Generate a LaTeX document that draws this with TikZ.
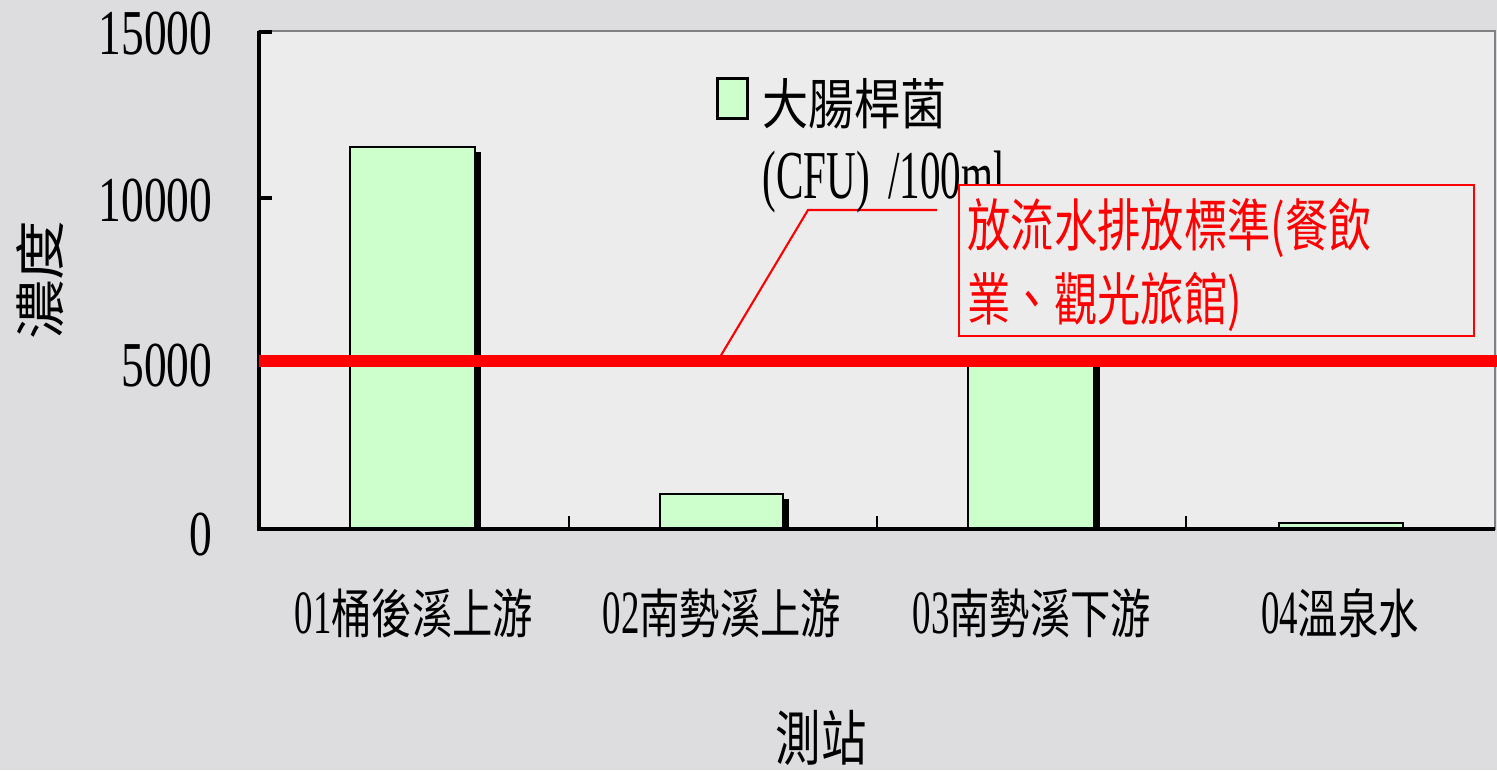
\documentclass[tikz,border=0pt]{standalone}
\usepackage{fontspec}
\usepackage{graphicx}
\newfontfamily\cjk[FakeStretch=0.76]{Noto Sans CJK TC}
\newfontfamily\cjkwide[FakeStretch=0.84]{Noto Sans CJK TC}
\newfontfamily\cjkup{Noto Sans CJK TC}
\newfontfamily\tnr[FakeStretch=0.6]{Liberation Serif}
\newfontfamily\tnrax[FakeStretch=0.71]{Liberation Serif}
\definecolor{marble}{RGB}{221,221,223}
\definecolor{plotgray}{RGB}{236,236,236}
\definecolor{barfill}{RGB}{204,255,204}
\definecolor{stdred}{RGB}{255,0,0}
\newcommand{\station}[2]{{\tnr\fontsize{17.5}{18}\selectfont #1}{\cjk\fontsize{15.1}{16}\selectfont #2}}

\begin{document}
\begin{tikzpicture}[x=0.1mm, y=-0.1mm,
  ylab/.style={anchor=east, inner sep=0pt, font=\tnrax\fontsize{18.2}{19}\selectfont},
  cat/.style={inner sep=0pt},
  bar/.style={draw=black, line width=0.7pt, fill=barfill},
  barshade/.style={fill=black},
  axis/.style={line width=0.9pt}]
\useasboundingbox (0,0) rectangle (1497,770);
\fill[marble] (0,0) rectangle (1497,770);
\filldraw[fill=plotgray, draw=gray, line width=0.6pt] (259,31) rectangle (1495,529);

% bars with their shadows
\fill[barshade] (356,152) rectangle (481,529);
\draw[bar] (350,147) rectangle (475,529);
\fill[barshade] (666,499) rectangle (789,529);
\draw[bar] (660,494) rectangle (783,529);
\fill[barshade] (974,365) rectangle (1100,529);
\draw[bar] (968,360) rectangle (1094,529);
\fill[barshade] (1285,527) rectangle (1409,529);
\draw[bar] (1279,523) rectangle (1403,529);

% axes and ticks
\draw[axis] (259,31) -- (259,529) -- (1495,529);
\draw[axis] (259,32) -- (272,32);
\draw[axis] (259,198) -- (272,198);
\draw[axis] (259,363) -- (272,363);
\draw[axis] (259,529) -- (272,529);
\draw[line width=0.4pt] (569,529) -- (569,516);
\draw[line width=0.4pt] (877,529) -- (877,516);
\draw[line width=0.4pt] (1186,529) -- (1186,516);

\node (y15) [ylab] at (213,34) {15000};
\node (y10) [ylab] at (213,201) {10000};
\node (y5) [ylab] at (213,366) {5000};
\node (y0) [ylab] at (213,535) {0};

\node (st1) [cat] at (414,613) {\station{01}{桶後溪上游}};
\node (st2) [cat] at (722,613) {\station{02}{南勢溪上游}};
\node (st3) [cat] at (1032,613) {\station{03}{南勢溪下游}};
\node (st4) [cat] at (1340,613) {\station{04}{溫泉水}};

\node (xtitle) [inner sep=0pt] at (821,738) {\cjk\fontsize{17}{18}\selectfont 測站};
\node (ytitle) [rotate=90, inner sep=0pt] at (40,280) {\scalebox{1}[0.85]{\cjkup\fontsize{17}{18}\selectfont 濃度}};

% standard line and its callout
\coordinate (stdleft) at (259,361);
\coordinate (stdright) at (1497,361);
\draw[stdred, line width=3.4pt] (stdleft) -- (stdright);
\coordinate (leadfoot) at (720,357);
\coordinate (leadknee) at (808,210);
\coordinate (leadtip) at (937,210);
\draw[stdred, line width=0.6pt] (leadfoot) -- (leadknee) -- (leadtip);

% legend
\node (keybox) [draw, line width=0.85pt, fill=barfill, minimum width=3mm, minimum height=4mm, inner sep=0pt, anchor=north west] at (716,77) {};
\node (keyname) [anchor=west, inner sep=0pt, font=\cjkwide\fontsize{15.6}{16}\selectfont] at (762,104) {大腸桿菌};
\node (keyunit) [anchor=west, inner sep=0pt, font=\tnr\fontsize{19.5}{20}\selectfont] at (762,182) {(CFU)\kern1.8mm/100ml};

\node (stdbox) [draw=stdred, line width=0.6pt, fill=plotgray, minimum width=51.5mm, minimum height=15.1mm, inner sep=0pt, anchor=north west] at (958,184) {};
\node (stdtext) [anchor=west, align=left, inner sep=0pt, text=stdred, font=\cjk\fontsize{16.2}{21.3}\selectfont] at (967,265) {放流水排放標準(餐飲\\業、觀光旅館)};
\end{tikzpicture}
\end{document}
